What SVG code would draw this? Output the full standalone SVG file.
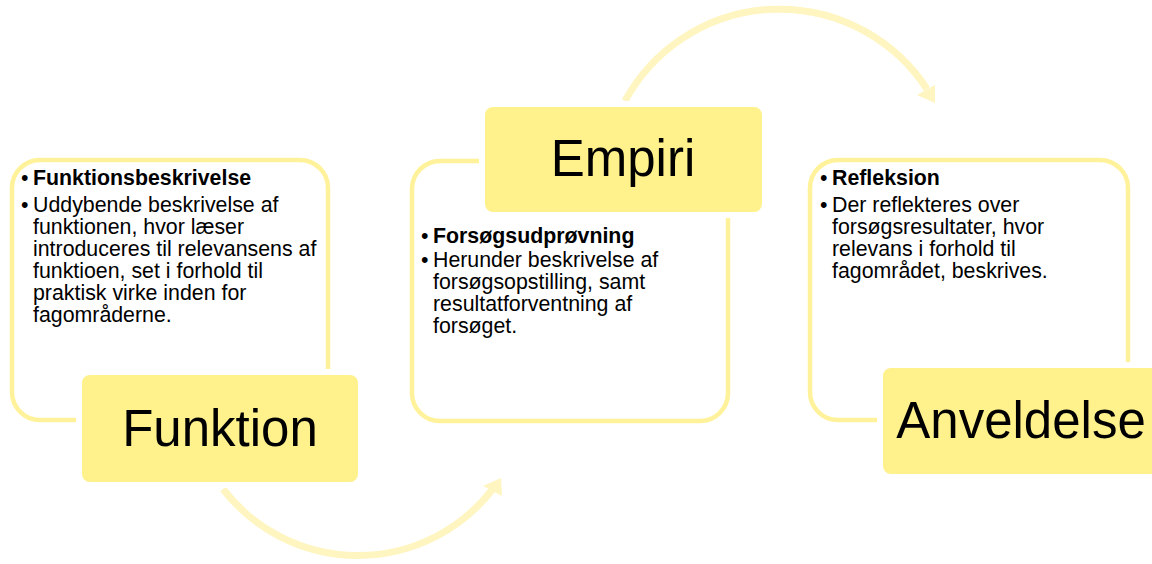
<svg xmlns="http://www.w3.org/2000/svg" width="1152" height="564" viewBox="0 0 1152 564">
  <style>
    .panel { fill: #FFFFFF; stroke: #FFF29A; stroke-width: 4.5; }
    .label { fill: #FFF18C; stroke: #FFFFFF; stroke-width: 12; paint-order: stroke; }
    .title { font-family: "Liberation Sans", Arial, sans-serif; font-size: 51px; fill: #000000; text-anchor: middle; }
    .body { font-family: "Liberation Sans", Arial, sans-serif; font-size: 21.33px; fill: #000000; }
    .bold { font-weight: bold; }
    .arc { fill: none; stroke: #FFF5C0; stroke-width: 7; }
    .head { fill: #FFF5C0; }
  </style>
  <rect width="1152" height="564" fill="#FFFFFF"/>

  <g id="connectors">
    <path class="arc" d="M 223 489 A 170 170 0 0 0 492 490"/>
    <polygon class="head" points="483,486 501,478 502,496"/>
    <path class="arc" d="M 625 101 A 176 176 0 0 1 927 89"/>
    <polygon class="head" points="917,95 935,85 935,103"/>
  </g>

  <g id="node-funktion">
    <rect class="panel" x="12" y="160" width="316" height="260" rx="28"/>
    <text class="body"><tspan x="21" y="185">•</tspan><tspan class="bold" x="33" y="185">Funktionsbeskrivelse</tspan></text>
    <text class="body">
      <tspan x="21" y="212">•</tspan><tspan x="33" y="212">Uddybende beskrivelse af</tspan>
      <tspan x="33" y="234">funktionen, hvor læser</tspan>
      <tspan x="33" y="256">introduceres til relevansens af</tspan>
      <tspan x="33" y="278">funktioen, set i forhold til</tspan>
      <tspan x="33" y="300">praktisk virke inden for</tspan>
      <tspan x="33" y="322">fagområderne.</tspan>
    </text>
    <rect class="label" x="82" y="375" width="276" height="107" rx="8"/>
    <text class="title" x="220" y="446">Funktion</text>
  </g>

  <g id="node-empiri">
    <rect class="panel" x="412" y="161" width="316" height="260" rx="28"/>
    <rect class="label" x="485" y="107" width="277" height="105" rx="8"/>
    <text class="title" x="623" y="176">Empiri</text>
    <text class="body"><tspan x="421" y="243">•</tspan><tspan class="bold" x="433" y="243">Forsøgsudprøvning</tspan></text>
    <text class="body">
      <tspan x="421" y="267">•</tspan><tspan x="433" y="267">Herunder beskrivelse af</tspan>
      <tspan x="433" y="289">forsøgsopstilling, samt</tspan>
      <tspan x="433" y="311">resultatforventning af</tspan>
      <tspan x="433" y="333">forsøget.</tspan>
    </text>
  </g>

  <g id="node-anveldelse">
    <rect class="panel" x="810" y="160" width="318" height="260" rx="28"/>
    <text class="body"><tspan x="820" y="185">•</tspan><tspan class="bold" x="832" y="185">Refleksion</tspan></text>
    <text class="body">
      <tspan x="820" y="212">•</tspan><tspan x="832" y="212">Der reflekteres over</tspan>
      <tspan x="832" y="234">forsøgsresultater, hvor</tspan>
      <tspan x="832" y="256">relevans i forhold til</tspan>
      <tspan x="832" y="278">fagområdet, beskrives.</tspan>
    </text>
    <rect class="label" x="883" y="368" width="277" height="106" rx="8"/>
    <text class="title" x="1021" y="438">Anveldelse</text>
  </g>
</svg>
